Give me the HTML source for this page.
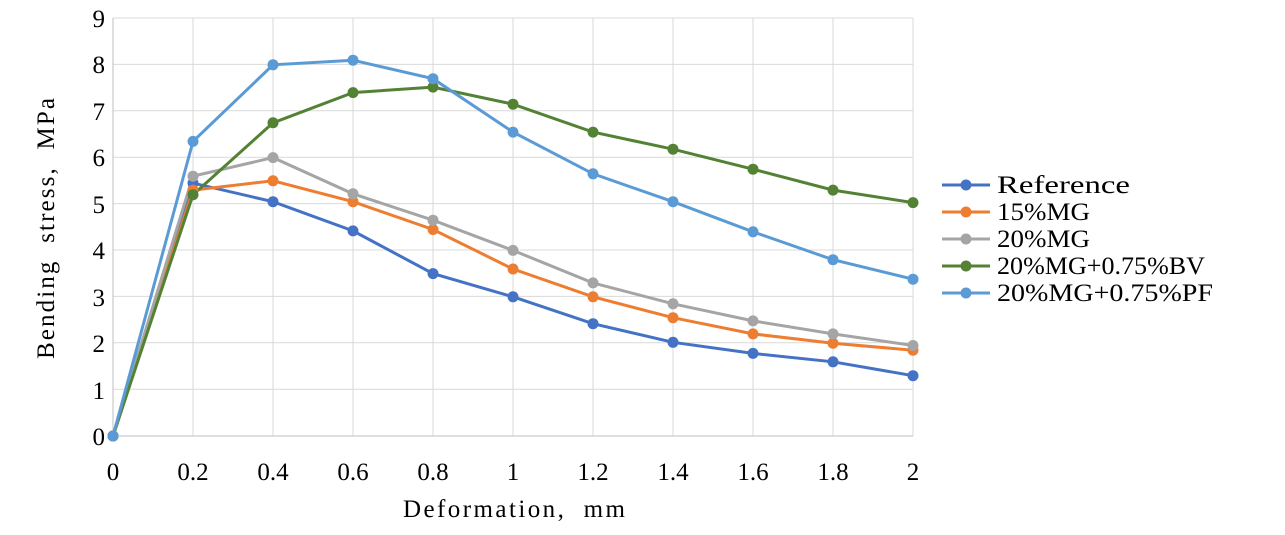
<!DOCTYPE html>
<html><head><meta charset="utf-8"><style>
body{margin:0;background:#fff}
svg text{font-family:"Liberation Serif",serif;font-size:25px;fill:#000}
</style></head><body>
<svg width="1285" height="530" viewBox="0 0 1285 530" xmlns="http://www.w3.org/2000/svg">
<g stroke="#d9d9d9" stroke-width="1">
<line x1="113" y1="18" x2="913" y2="18"/><line x1="113" y1="64.4" x2="913" y2="64.4"/><line x1="113" y1="110.8" x2="913" y2="110.8"/><line x1="113" y1="157.2" x2="913" y2="157.2"/><line x1="113" y1="203.6" x2="913" y2="203.6"/><line x1="113" y1="250" x2="913" y2="250"/><line x1="113" y1="296.4" x2="913" y2="296.4"/><line x1="113" y1="342.8" x2="913" y2="342.8"/><line x1="113" y1="389.2" x2="913" y2="389.2"/>
<line x1="193" y1="18" x2="193" y2="436"/><line x1="273" y1="18" x2="273" y2="436"/><line x1="353" y1="18" x2="353" y2="436"/><line x1="433" y1="18" x2="433" y2="436"/><line x1="513" y1="18" x2="513" y2="436"/><line x1="593" y1="18" x2="593" y2="436"/><line x1="673" y1="18" x2="673" y2="436"/><line x1="753" y1="18" x2="753" y2="436"/><line x1="833" y1="18" x2="833" y2="436"/><line x1="913" y1="18" x2="913" y2="436"/>
</g>
<line x1="113" y1="18" x2="113" y2="436" stroke="#bfbfbf"/>
<line x1="113" y1="436" x2="913" y2="436" stroke="#bfbfbf"/>
<g text-anchor="end">
<text x="105" y="445">0</text><text x="105" y="399">1</text><text x="105" y="352">2</text><text x="105" y="306">3</text><text x="105" y="259">4</text><text x="105" y="213">5</text><text x="105" y="166">6</text><text x="105" y="120">7</text><text x="105" y="73">8</text><text x="105" y="27">9</text>
</g>
<g text-anchor="middle">
<text x="113" y="480">0</text><text x="193" y="480">0.2</text><text x="273" y="480">0.4</text><text x="353" y="480">0.6</text><text x="433" y="480">0.8</text><text x="513" y="480">1</text><text x="593" y="480">1.2</text><text x="673" y="480">1.4</text><text x="753" y="480">1.6</text><text x="833" y="480">1.8</text><text x="913" y="480">2</text>
</g>
<text x="403" y="517" textLength="222" lengthAdjust="spacing">Deformation,&#160; mm</text>
<text transform="translate(54,359) rotate(-90)" textLength="261" lengthAdjust="spacing">Bending&#160; stress,&#160; MPa</text>
<g fill="none" stroke-width="3">
<polyline stroke="#4472C4" points="113,436 193,183.1 273,201.7 353,230.9 433,273.6 513,296.8 593,323.7 673,342.3 753,353.4 833,361.8 913,375.7"/>
<polyline stroke="#ED7D31" points="113,436 193,190.1 273,180.8 353,201.7 433,229.5 513,269 593,296.8 673,317.7 753,333.9 833,343.2 913,350.2"/>
<polyline stroke="#A5A5A5" points="113,436 193,176.2 273,157.6 353,193.8 433,220.2 513,250.4 593,282.9 673,303.8 753,320.9 833,333.9 913,345.5"/>
<polyline stroke="#548235" points="113,436 193,194.7 273,122.8 353,92.6 433,87.1 513,104.2 593,132.1 673,149.2 753,169.2 833,190.1 913,202.6"/>
<polyline stroke="#5B9BD5" points="113,436 193,141.4 273,64.8 353,60.2 433,78.7 513,132.1 593,173.8 673,201.7 753,231.8 833,259.7 913,279.2"/>
</g>
<g fill="#4472C4"><circle cx="113" cy="436" r="5.5"/><circle cx="193" cy="183.1" r="5.5"/><circle cx="273" cy="201.7" r="5.5"/><circle cx="353" cy="230.9" r="5.5"/><circle cx="433" cy="273.6" r="5.5"/><circle cx="513" cy="296.8" r="5.5"/><circle cx="593" cy="323.7" r="5.5"/><circle cx="673" cy="342.3" r="5.5"/><circle cx="753" cy="353.4" r="5.5"/><circle cx="833" cy="361.8" r="5.5"/><circle cx="913" cy="375.7" r="5.5"/></g>
<g fill="#ED7D31"><circle cx="113" cy="436" r="5.5"/><circle cx="193" cy="190.1" r="5.5"/><circle cx="273" cy="180.8" r="5.5"/><circle cx="353" cy="201.7" r="5.5"/><circle cx="433" cy="229.5" r="5.5"/><circle cx="513" cy="269" r="5.5"/><circle cx="593" cy="296.8" r="5.5"/><circle cx="673" cy="317.7" r="5.5"/><circle cx="753" cy="333.9" r="5.5"/><circle cx="833" cy="343.2" r="5.5"/><circle cx="913" cy="350.2" r="5.5"/></g>
<g fill="#A5A5A5"><circle cx="113" cy="436" r="5.5"/><circle cx="193" cy="176.2" r="5.5"/><circle cx="273" cy="157.6" r="5.5"/><circle cx="353" cy="193.8" r="5.5"/><circle cx="433" cy="220.2" r="5.5"/><circle cx="513" cy="250.4" r="5.5"/><circle cx="593" cy="282.9" r="5.5"/><circle cx="673" cy="303.8" r="5.5"/><circle cx="753" cy="320.9" r="5.5"/><circle cx="833" cy="333.9" r="5.5"/><circle cx="913" cy="345.5" r="5.5"/></g>
<g fill="#548235"><circle cx="113" cy="436" r="5.5"/><circle cx="193" cy="194.7" r="5.5"/><circle cx="273" cy="122.8" r="5.5"/><circle cx="353" cy="92.6" r="5.5"/><circle cx="433" cy="87.1" r="5.5"/><circle cx="513" cy="104.2" r="5.5"/><circle cx="593" cy="132.1" r="5.5"/><circle cx="673" cy="149.2" r="5.5"/><circle cx="753" cy="169.2" r="5.5"/><circle cx="833" cy="190.1" r="5.5"/><circle cx="913" cy="202.6" r="5.5"/></g>
<g fill="#5B9BD5"><circle cx="113" cy="436" r="5.5"/><circle cx="193" cy="141.4" r="5.5"/><circle cx="273" cy="64.8" r="5.5"/><circle cx="353" cy="60.2" r="5.5"/><circle cx="433" cy="78.7" r="5.5"/><circle cx="513" cy="132.1" r="5.5"/><circle cx="593" cy="173.8" r="5.5"/><circle cx="673" cy="201.7" r="5.5"/><circle cx="753" cy="231.8" r="5.5"/><circle cx="833" cy="259.7" r="5.5"/><circle cx="913" cy="279.2" r="5.5"/></g>
<g stroke-width="3">
<line x1="942" y1="185" x2="990" y2="185" stroke="#4472C4"/><circle cx="966" cy="185" r="5.5" fill="#4472C4"/>
<line x1="942" y1="212" x2="990" y2="212" stroke="#ED7D31"/><circle cx="966" cy="212" r="5.5" fill="#ED7D31"/>
<line x1="942" y1="239" x2="990" y2="239" stroke="#A5A5A5"/><circle cx="966" cy="239" r="5.5" fill="#A5A5A5"/>
<line x1="942" y1="266" x2="990" y2="266" stroke="#548235"/><circle cx="966" cy="266" r="5.5" fill="#548235"/>
<line x1="942" y1="293" x2="990" y2="293" stroke="#5B9BD5"/><circle cx="966" cy="293" r="5.5" fill="#5B9BD5"/>
</g>
<text x="997" y="193" textLength="133" lengthAdjust="spacingAndGlyphs">Reference</text>
<text x="997" y="220" textLength="93" lengthAdjust="spacingAndGlyphs">15%MG</text>
<text x="997" y="247" textLength="93" lengthAdjust="spacingAndGlyphs">20%MG</text>
<text x="997" y="274" textLength="208" lengthAdjust="spacingAndGlyphs">20%MG+0.75%BV</text>
<text x="997" y="301" textLength="216" lengthAdjust="spacingAndGlyphs">20%MG+0.75%PF</text>
</svg>
</body></html>
